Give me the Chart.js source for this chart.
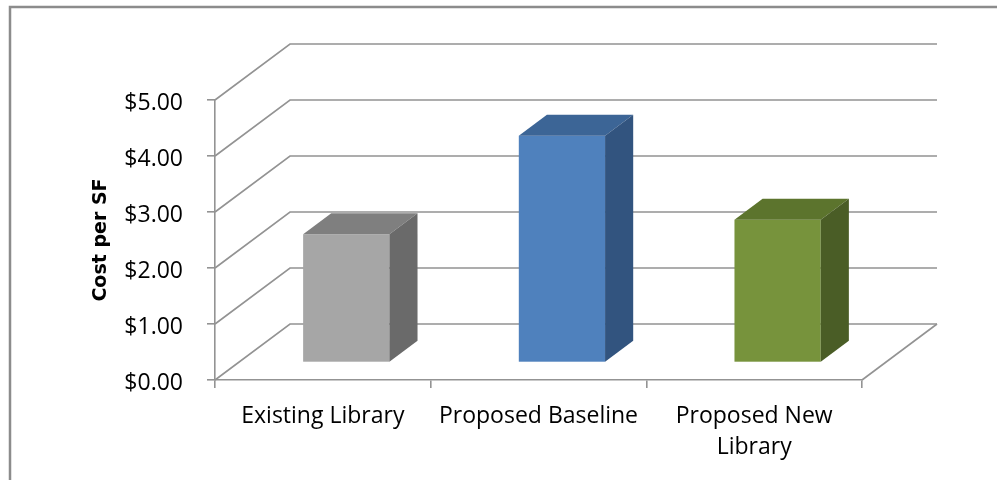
<!DOCTYPE html>
<html>
<head>
<meta charset="utf-8">
<script src="https://cdn.jsdelivr.net/npm/chart.js@4.4.1/dist/chart.umd.min.js"></script>
<style>
  html, body { margin: 0; padding: 0; background: #ffffff; }
  canvas { display: block; }
</style>
</head>
<body>
<canvas id="chart" width="997" height="480"></canvas>
<script>
// Categories and values
const categories = ['Existing Library', 'Proposed Baseline', ['Proposed New', 'Library']];
const costPerSF = [2.29, 4.05, 2.55];
const yTickValues = [0, 1, 2, 3, 4, 5];

// Face colours of each box: front, top, right side
const frontColors = ['#a6a6a6', '#4f81bd', '#77933c'];
const topColors   = ['#7f7f7f', '#3c6596', '#5c742d'];
const sideColors  = ['#6a6a6a', '#32547f', '#4a5d26'];

// Oblique projection of the floor depth
const DEPTH_X = 75;
const DEPTH_Y = 56;
const BAR_FRONT = 0.3125;   // fraction of depth where the box starts
const BAR_BACK = 0.6875;    // fraction of depth where the box ends
const LINE_COLOR = '#939393';

const money = v => '$' + Number(v).toFixed(2);

const wall3d = {
  id: 'wall3d',
  beforeDraw(chart) {
    const ctx = chart.ctx;
    ctx.save();
    ctx.strokeStyle = '#8c8c8c';
    ctx.lineWidth = 2.5;
    ctx.strokeRect(10, 7, 1010, 520);
    ctx.restore();
  },
  beforeDatasetsDraw(chart) {
    const { ctx, chartArea: a, scales: { y } } = chart;
    ctx.save();
    ctx.strokeStyle = LINE_COLOR;
    ctx.lineWidth = 1.6;
    ctx.lineJoin = 'miter';
    yTickValues.forEach(v => {
      const py = y.getPixelForValue(v);
      ctx.beginPath();
      ctx.moveTo(a.left, py);
      ctx.lineTo(a.left + DEPTH_X, py - DEPTH_Y);
      ctx.lineTo(a.right + DEPTH_X, py - DEPTH_Y);
      ctx.stroke();
    });
    // right edge of the floor
    const p0 = y.getPixelForValue(0);
    ctx.beginPath();
    ctx.moveTo(a.right, p0);
    ctx.lineTo(a.right + DEPTH_X, p0 - DEPTH_Y);
    ctx.stroke();
    ctx.restore();
  },
  afterDatasetsDraw(chart) {
    const ctx = chart.ctx;
    const meta = chart.getDatasetMeta(0);
    const fx = BAR_FRONT * DEPTH_X, fy = BAR_FRONT * DEPTH_Y;
    const dx = (BAR_BACK - BAR_FRONT) * DEPTH_X, dy = (BAR_BACK - BAR_FRONT) * DEPTH_Y;
    ctx.save();
    meta.data.forEach((bar, i) => {
      const p = bar.getProps(['x', 'y', 'base', 'width'], true);
      const l = p.x - p.width / 2 + fx;
      const r = p.x + p.width / 2 + fx;
      const t = p.y - fy;
      const b = p.base - fy;
      // front face
      ctx.fillStyle = frontColors[i];
      ctx.fillRect(l, t, r - l, b - t);
      // top face
      ctx.fillStyle = topColors[i];
      ctx.beginPath();
      ctx.moveTo(l, t);
      ctx.lineTo(l + dx, t - dy);
      ctx.lineTo(r + dx, t - dy);
      ctx.lineTo(r, t);
      ctx.closePath();
      ctx.fill();
      // side face
      ctx.fillStyle = sideColors[i];
      ctx.beginPath();
      ctx.moveTo(r, t);
      ctx.lineTo(r + dx, t - dy);
      ctx.lineTo(r + dx, b - dy);
      ctx.lineTo(r, b);
      ctx.closePath();
      ctx.fill();
    });
    ctx.restore();
  }
};

new Chart(document.getElementById('chart'), {
  type: 'bar',
  data: {
    labels: categories,
    datasets: [{
      label: 'Cost per SF',
      data: costPerSF,
      backgroundColor: 'rgba(0,0,0,0)',
      borderWidth: 0,
      barPercentage: 0.4,
      categoryPercentage: 1.0
    }]
  },
  options: {
    responsive: false,
    animation: false,
    devicePixelRatio: 1,
    layout: { padding: { left: 0, top: 100, right: 135, bottom: 0 } },
    plugins: {
      legend: { display: false },
      tooltip: { enabled: false }
    },
    scales: {
      x: {
        grid: {
          display: true,
          drawOnChartArea: false,
          drawTicks: true,
          tickLength: 8,
          color: LINE_COLOR,
          lineWidth: 1.6,
          offset: true
        },
        border: { display: true, color: LINE_COLOR, width: 1.6 },
        ticks: {
          color: '#000000',
          padding: 13,
          maxRotation: 0,
          autoSkip: false,
          font: { family: '"Open Sans"', size: 23, lineHeight: 1.35 }
        },
        afterFit(s) { s.height = 100; }
      },
      y: {
        min: 0,
        max: 5,
        afterBuildTicks(s) { s.ticks = yTickValues.map(v => ({ value: v })); },
        grid: {
          display: true,
          drawOnChartArea: false,
          drawTicks: true,
          tickLength: 8,
          color: LINE_COLOR,
          lineWidth: 1.6
        },
        border: { display: true, color: LINE_COLOR, width: 1.6 },
        ticks: {
          color: '#000000',
          padding: 24,
          labelOffset: 3,
          callback: v => money(v),
          font: { family: '"Open Sans"', size: 23 }
        },
        title: {
          display: true,
          text: 'Cost per SF',
          color: '#000000',
          padding: { top: 90, bottom: 0 },
          font: { family: '"DejaVu Sans"', size: 19, weight: 'bold' }
        },
        afterFit(s) { s.width = 215; }
      }
    }
  },
  plugins: [wall3d]
});
</script>
</body>
</html>
